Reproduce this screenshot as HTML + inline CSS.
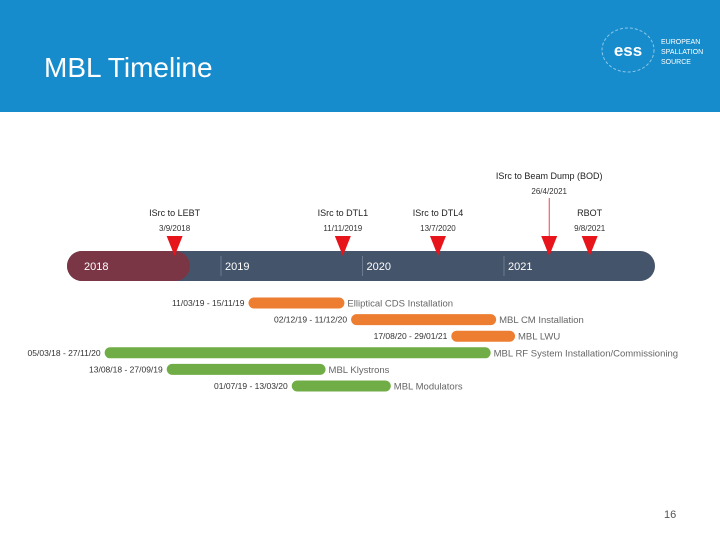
<!DOCTYPE html>
<html><head><meta charset="utf-8"><style>
body{margin:0;width:720px;height:540px;overflow:hidden;background:#fff;font-family:"Liberation Sans",sans-serif}
</style></head><body>
<svg width="720" height="540" id="s" font-family="Liberation Sans, sans-serif">
<rect x="0" y="0" width="720" height="112" fill="#168ccd"/>
<text x="44" y="77" font-size="28" fill="#fff">MBL Timeline</text>
<g>
<ellipse cx="628" cy="50" rx="26" ry="22" fill="none" stroke="#fff" stroke-opacity="0.5" stroke-dasharray="3 2"/>
<text x="628" y="56" font-size="17" font-weight="bold" fill="#fff" text-anchor="middle">ess</text>
<text x="661" y="44" font-size="7" fill="#fff">EUROPEAN</text>
<text x="661" y="54" font-size="7" fill="#fff">SPALLATION</text>
<text x="661" y="64" font-size="7" fill="#fff">SOURCE</text>
</g>
<text x="664" y="518" font-size="11" fill="#555">16</text>
<g id="chart"></g>
</svg>
<script>
const years=[2018,2019,2020,2021];
const msNames=["ISrc to LEBT","ISrc to DTL1","ISrc to DTL4","ISrc to Beam Dump (BOD)","RBOT"];
const msDates=["3/9/2018","11/11/2019","13/7/2020","26/4/2021","9/8/2021"];
const taskNames=["Elliptical CDS Installation","MBL CM Installation","MBL LWU","MBL RF System Installation/Commissioning","MBL Klystrons","MBL Modulators"];
const taskStart=["11/03/19","02/12/19","17/08/20","05/03/18","13/08/18","01/07/19"];
const taskEnd=["15/11/19","11/12/20","29/01/21","27/11/20","27/09/19","13/03/20"];
const taskColor=["#ed7d31","#ed7d31","#ed7d31","#70ad47","#70ad47","#70ad47"];
const NS="http://www.w3.org/2000/svg";
const g=document.getElementById('chart');
function px(yr){return 221+(yr-2019)*141.5;}
function parseDMY(s){const p=s.split('/').map(Number);let y=p[2];if(y<100)y+=2000;return y+((p[1]-1)+(p[0]-1)/30)/12;}
function el(t,a,txt){const e=document.createElementNS(NS,t);for(const k in a)e.setAttribute(k,a[k]);if(txt!==undefined)e.textContent=txt;g.appendChild(e);return e;}
let e=el('rect',{x:67,y:251,width:588,height:30,rx:15,fill:'#44546a'});


e=el('path',{d:'M82,251 H175 A15,15 0 0 1 175,281 H82 A15,15 0 0 1 82,251 Z',fill:'#7b3646'});


years.forEach((y,i)=>{
  const x=px(y);
  if(i>0){const l=el('line',{x1:x,y1:256,x2:x,y2:276,stroke:'#8a96a8','stroke-width':0.6});
  
  }
  const t=el('text',{x:(i==0?84:x+4),y:270,'font-size':11,fill:'#fff'},String(y));
  
  
});
msNames.forEach((n,i)=>{
  const x=px(parseDMY(msDates[i]));
  const bod=n.indexOf('BOD')>=0;
  const ny=bod?179:216, dy=bod?194:231;
  if(bod){const l=el('line',{x1:x,y1:198,x2:x,y2:238,stroke:'#e8141c','stroke-width':0.8});
  
  }
  const tr=el('polygon',{points:`${x-8},236 ${x+8},236 ${x},256`,fill:'#e8141c'});
  
  
  const a=el('text',{x:x,y:ny,'font-size':9,fill:'#222','text-anchor':'middle'},n);
  
  
  const b=el('text',{x:x,y:dy,'font-size':8,fill:'#333','text-anchor':'middle'},msDates[i]);
  
  
});
taskNames.forEach((n,i)=>{
  const x1=px(parseDMY(taskStart[i])),x2=px(parseDMY(taskEnd[i]));
  const cy=303+i*16.6;
  const r=el('rect',{x:x1,y:cy-5.5,width:x2-x1,height:11,rx:5.5,fill:taskColor[i]});
  
  
  const a=el('text',{x:x1-4,y:cy+3,'font-size':8.5,fill:'#333','text-anchor':'end'},taskStart[i]+' - '+taskEnd[i]);
  
  
  const b=el('text',{x:x2+3,y:cy+3.5,'font-size':9.5,fill:'#666'},n);
  
  
});
</script>
</body></html>
